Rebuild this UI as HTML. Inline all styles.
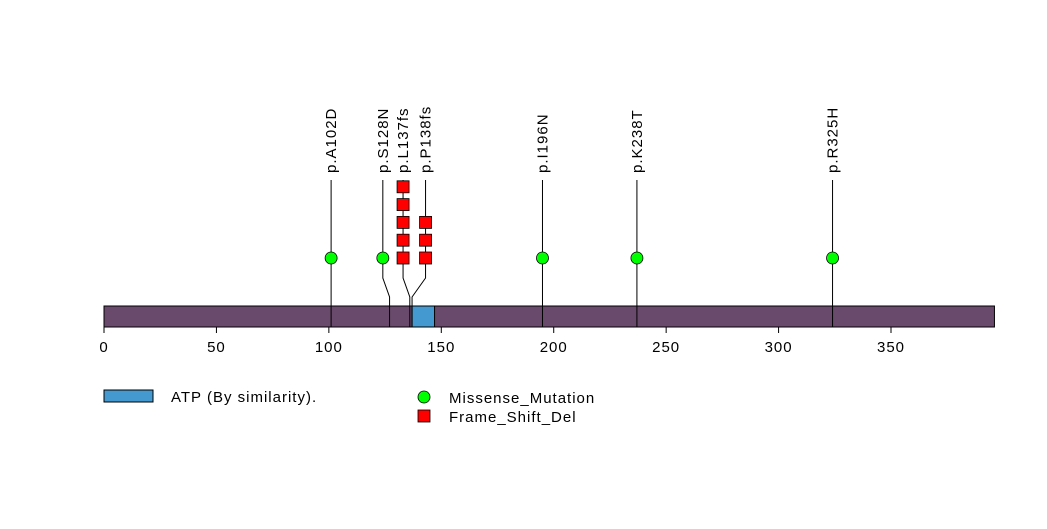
<!DOCTYPE html>
<html><head><meta charset="utf-8"><style>
body{margin:0;background:#fff}
svg text{font-family:"Liberation Sans",sans-serif;font-size:15px;letter-spacing:1px}
</style></head><body>
<svg id="c" width="1047" height="524"></svg>
<script>
const proteinLength = 397;
const tickValues = [0,50,100,150,200,250,300,350];
const domainNames = ["ATP (By similarity)."];
const domainStarts = [137];
const domainEnds = [147];
const mutLabels = ["p.A102D","p.S128N","p.L137fs","p.P138fs","p.I196N","p.K238T","p.R325H"];
const mutPositions = [102,128,137,138,196,238,325];
const mutCounts = [1,1,5,3,1,1,1];
const mutTypes = ["missense","missense","fs","fs","missense","missense","missense"];
const markerOffsets = [0,-3,-3,6,0,0,0]; // display shift in residues to avoid overlap

const NS="http://www.w3.org/2000/svg";
const svg=document.getElementById('c');
const X=v=>104+v*2.2486;
function el(t,a,p){const e=document.createElementNS(NS,t);for(const k in a)e.setAttribute(k,a[k]);(p||svg).appendChild(e);return e;}

const bar=el('rect',{x:X(0),y:306,width:X(proteinLength-1)-X(0),height:21,fill:'#6a4a6c',stroke:'#000','stroke-width':1});


domainNames.forEach((n,i)=>{
  const r=el('rect',{x:X(domainStarts[i]),y:306,width:X(domainEnds[i])-X(domainStarts[i]),height:21,fill:'#4499d0',stroke:'#000','stroke-width':1});
  
  
});
const axis=el('line',{x1:X(0),x2:X(350),y1:327,y2:327,stroke:'#000'});


tickValues.forEach(t=>{
  const l=el('line',{x1:X(t),x2:X(t),y1:327,y2:333,stroke:'#000'});
  
  
  const tx=el('text',{x:X(t),y:352,'text-anchor':'middle'});tx.textContent=t;
  
  
});
mutLabels.forEach((lab,i)=>{
  const xb=X(mutPositions[i]-1), xm=X(mutPositions[i]-1+markerOffsets[i]);
  const g=el('g',{});
  
  
  el('polyline',{points:`${xm},180 ${xm},278 ${xb},297 ${xb},327`,fill:'none',stroke:'#000','stroke-width':1},g);
  for(let k=0;k<mutCounts[i];k++){
    const y=258-k*17.8;
    if(mutTypes[i]==='missense') el('circle',{cx:xm,cy:y,r:6,fill:'#00ff00',stroke:'#000','stroke-width':0.8},g);
    else el('rect',{x:xm-6,y:y-6,width:12,height:12,fill:'#ff0000',stroke:'#000','stroke-width':0.8},g);
  }
  const t=el('text',{x:0,y:0,transform:`translate(${xm+5},173) rotate(-90)`},g);t.textContent=lab;
});
// legend
const lg=el('g',{});


el('rect',{x:104,y:390,width:49,height:12,fill:'#4499d0',stroke:'#000'},lg);
let t1=el('text',{x:171,y:402},lg);t1.textContent=domainNames[0];
el('circle',{cx:424,cy:397,r:6,fill:'#00ff00',stroke:'#000','stroke-width':0.8},lg);
let t2=el('text',{x:449,y:403},lg);t2.textContent="Missense_Mutation";
el('rect',{x:418,y:410,width:12,height:12,fill:'#ff0000',stroke:'#000','stroke-width':0.8},lg);
let t3=el('text',{x:449,y:422},lg);t3.textContent="Frame_Shift_Del";
</script>
</body></html>
